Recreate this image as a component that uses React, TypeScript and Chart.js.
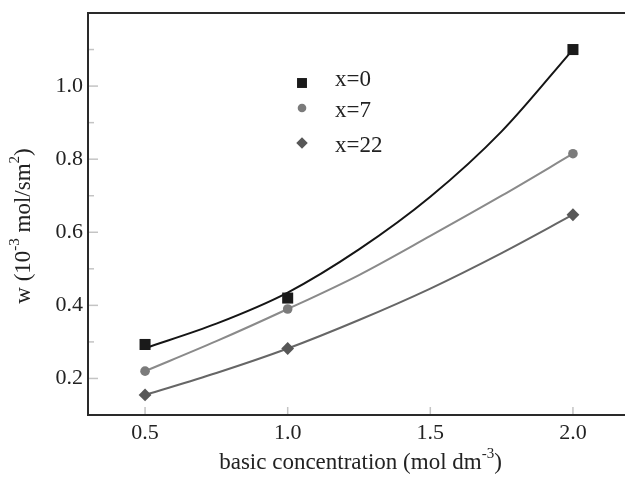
import React, { useEffect, useRef } from "react";
import { Chart, registerables } from "chart.js";

Chart.register(...registerables);

// ---- data ----
const concentrations = [0.5, 1.0, 2.0];
const wX0 = [0.293, 0.42, 1.1];
const wX7 = [0.22, 0.39, 0.815];
const wX22 = [0.155, 0.282, 0.648];

// fitted curves
const fitX = [0.5, 0.75, 1.0, 1.25, 1.5, 1.75, 2.0];
const fitX0 = [0.283, 0.35, 0.435, 0.553, 0.697, 0.876, 1.1];
const fitX7 = [0.22, 0.302, 0.39, 0.483, 0.59, 0.7, 0.815];
const fitX22 = [0.155, 0.215, 0.282, 0.36, 0.446, 0.543, 0.648];

const seriesLabels = ["x=0", "x=7", "x=22"];
const xTicks = [0.5, 1.0, 1.5, 2.0];
const yTicks = [0.2, 0.4, 0.6, 0.8, 1.0];
const yMinorTicks = [0.3, 0.5, 0.7, 0.9, 1.1];

const FONT = "'Liberation Serif', 'Times New Roman', serif";

const toPts = (xs: number[], ys: number[]) => xs.map((x, i) => ({ x, y: ys[i] }));

const markerColors = ["#1a1a1a", "#7b7b7b", "#575757"];
const lineColors = ["#151515", "#8a8a8a", "#666666"];
const markerStyles = ["rect", "circle", "rectRot"];
const markerRadii = [7.8, 4.8, 6.4];

function drawMarker(ctx: CanvasRenderingContext2D, style: string, x: number, y: number, r: number, color: string) {
  ctx.save();
  ctx.fillStyle = color;
  ctx.beginPath();
  if (style === "rect") {
    const s = Math.SQRT1_2 * r;
    ctx.rect(x - s, y - s, 2 * s, 2 * s);
  } else if (style === "circle") {
    ctx.arc(x, y, r, 0, Math.PI * 2);
  } else {
    ctx.moveTo(x, y - r);
    ctx.lineTo(x + r, y);
    ctx.lineTo(x, y + r);
    ctx.lineTo(x - r, y);
    ctx.closePath();
  }
  ctx.fill();
  ctx.restore();
}

function drawSupText(
  ctx: CanvasRenderingContext2D,
  parts: { t: string; sup?: boolean }[],
  cx: number,
  cy: number,
  size: number
) {
  const supSize = Math.round(size * 0.65);
  let total = 0;
  for (const p of parts) {
    ctx.font = `${p.sup ? supSize : size}px ${FONT}`;
    total += ctx.measureText(p.t).width;
  }
  let x = cx - total / 2;
  ctx.textBaseline = "middle";
  ctx.textAlign = "left";
  for (const p of parts) {
    ctx.font = `${p.sup ? supSize : size}px ${FONT}`;
    ctx.fillText(p.t, x, p.sup ? cy - size * 0.38 : cy);
    x += ctx.measureText(p.t).width;
  }
}

const framePlugin = {
  id: "frameAndExtras",
  beforeDatasetsDraw(chart: any) {
    const { ctx, chartArea } = chart;
    const xs = chart.scales.x;
    const ys = chart.scales.y;
    ctx.save();
    ctx.strokeStyle = "#c4c4c4";
    ctx.lineWidth = 1.5;
    for (const v of yTicks) {
      const py = ys.getPixelForValue(v);
      ctx.beginPath();
      ctx.moveTo(chartArea.left, py);
      ctx.lineTo(chartArea.left + 10, py);
      ctx.stroke();
    }
    for (const v of yMinorTicks) {
      const py = ys.getPixelForValue(v);
      ctx.beginPath();
      ctx.moveTo(chartArea.left, py);
      ctx.lineTo(chartArea.left + 6, py);
      ctx.stroke();
    }
    for (const v of xTicks) {
      const px = xs.getPixelForValue(v);
      ctx.beginPath();
      ctx.moveTo(px, chartArea.bottom);
      ctx.lineTo(px, chartArea.bottom - 8);
      ctx.stroke();
    }
    ctx.restore();
  },
  afterDraw(chart: any) {
    const { ctx, chartArea } = chart;
    ctx.save();
    ctx.strokeStyle = "#2a2a2a";
    ctx.lineWidth = 2;
    ctx.strokeRect(chartArea.left, chartArea.top, chartArea.right - chartArea.left, chartArea.bottom - chartArea.top);

    // legend
    const lx = chartArea.left + 214;
    const tx = chartArea.left + 247;
    const rowsY = [chartArea.top + 70, chartArea.top + 95, chartArea.top + 130];
    const textY = [chartArea.top + 67, chartArea.top + 98, chartArea.top + 133];
    ctx.font = `23px ${FONT}`;
    ctx.textBaseline = "middle";
    ctx.textAlign = "left";
    for (let i = 0; i < seriesLabels.length; i++) {
      drawMarker(ctx, markerStyles[i], lx, rowsY[i], markerRadii[i] * 0.9, markerColors[i]);
      ctx.fillStyle = "#222";
      ctx.font = `23px ${FONT}`;
      ctx.textBaseline = "middle";
      ctx.textAlign = "left";
      ctx.fillText(seriesLabels[i], tx, textY[i]);
    }

    // axis titles
    ctx.fillStyle = "#222";
    drawSupText(
      ctx,
      [{ t: "basic concentration (mol dm" }, { t: "-3", sup: true }, { t: ")" }],
      (chartArea.left + 625) / 2 + 4,
      chartArea.bottom + 48,
      23
    );
    ctx.save();
    ctx.translate(24, (chartArea.top + chartArea.bottom) / 2 + 12);
    ctx.rotate(-Math.PI / 2);
    drawSupText(
      ctx,
      [{ t: "w (10" }, { t: "-3", sup: true }, { t: " mol/sm" }, { t: "2", sup: true }, { t: ")" }],
      0,
      0,
      23
    );
    ctx.restore();
    ctx.restore();
  },
};

export default function App() {
  const ref = useRef<HTMLCanvasElement | null>(null);
  useEffect(() => {
    if (!ref.current) return;
    const fits = [fitX0, fitX7, fitX22];
    const pts = [wX0, wX7, wX22];
    const datasets: any[] = [];
    for (let i = 0; i < 3; i++) {
      datasets.push({
        label: seriesLabels[i] + " fit",
        data: toPts(fitX, fits[i]),
        showLine: true,
        borderColor: lineColors[i],
        borderWidth: 2,
        pointRadius: 0,
        cubicInterpolationMode: "monotone",
        fill: false,
        order: 2,
      });
    }
    for (let i = 0; i < 3; i++) {
      datasets.push({
        label: seriesLabels[i],
        data: toPts(concentrations, pts[i]),
        showLine: false,
        pointStyle: markerStyles[i],
        pointRadius: markerRadii[i],
        pointBackgroundColor: markerColors[i],
        pointBorderColor: markerColors[i],
        pointBorderWidth: 0,
        order: 1,
      });
    }
    const chart = new Chart(ref.current, {
      type: "scatter",
      data: { datasets },
      options: {
        animation: false,
        responsive: false,
        layout: { padding: { left: 0, top: 13, right: 10, bottom: 0 } },
        plugins: { legend: { display: false }, tooltip: { enabled: false } },
        scales: {
          x: {
            type: "linear",
            min: 0.3,
            max: 2.2,
            grid: { display: false, drawTicks: false },
            border: { display: false },
            afterBuildTicks: (s: any) => {
              s.ticks = xTicks.map((v) => ({ value: v }));
            },
            afterFit: (s: any) => {
              s.height = 63;
              s.paddingLeft = 0;
              s.paddingRight = 0;
            },
            ticks: {
              padding: 5,
              color: "#222",
              font: { family: FONT, size: 22 },
              callback: (v: any) => Number(v).toFixed(1),
            },
          },
          y: {
            type: "linear",
            min: 0.1,
            max: 1.2,
            grid: { display: false, drawTicks: false },
            border: { display: false },
            afterBuildTicks: (s: any) => {
              s.ticks = yTicks.map((v) => ({ value: v }));
            },
            afterFit: (s: any) => {
              s.width = 88;
              s.paddingTop = 0;
              s.paddingBottom = 0;
            },
            ticks: {
              padding: 5,
              color: "#222",
              font: { family: FONT, size: 22 },
              callback: (v: any) => Number(v).toFixed(1),
            },
          },
        },
      },
      plugins: [framePlugin],
    });
    return () => chart.destroy();
  }, []);
  return (
    <div
      style={{
        position: "fixed",
        left: 0,
        top: 0,
        width: 625,
        height: 478,
        overflow: "hidden",
        background: "#fff",
      }}
    >
      <canvas ref={ref} width={640} height={478} style={{ display: "block" }} />
    </div>
  );
}
